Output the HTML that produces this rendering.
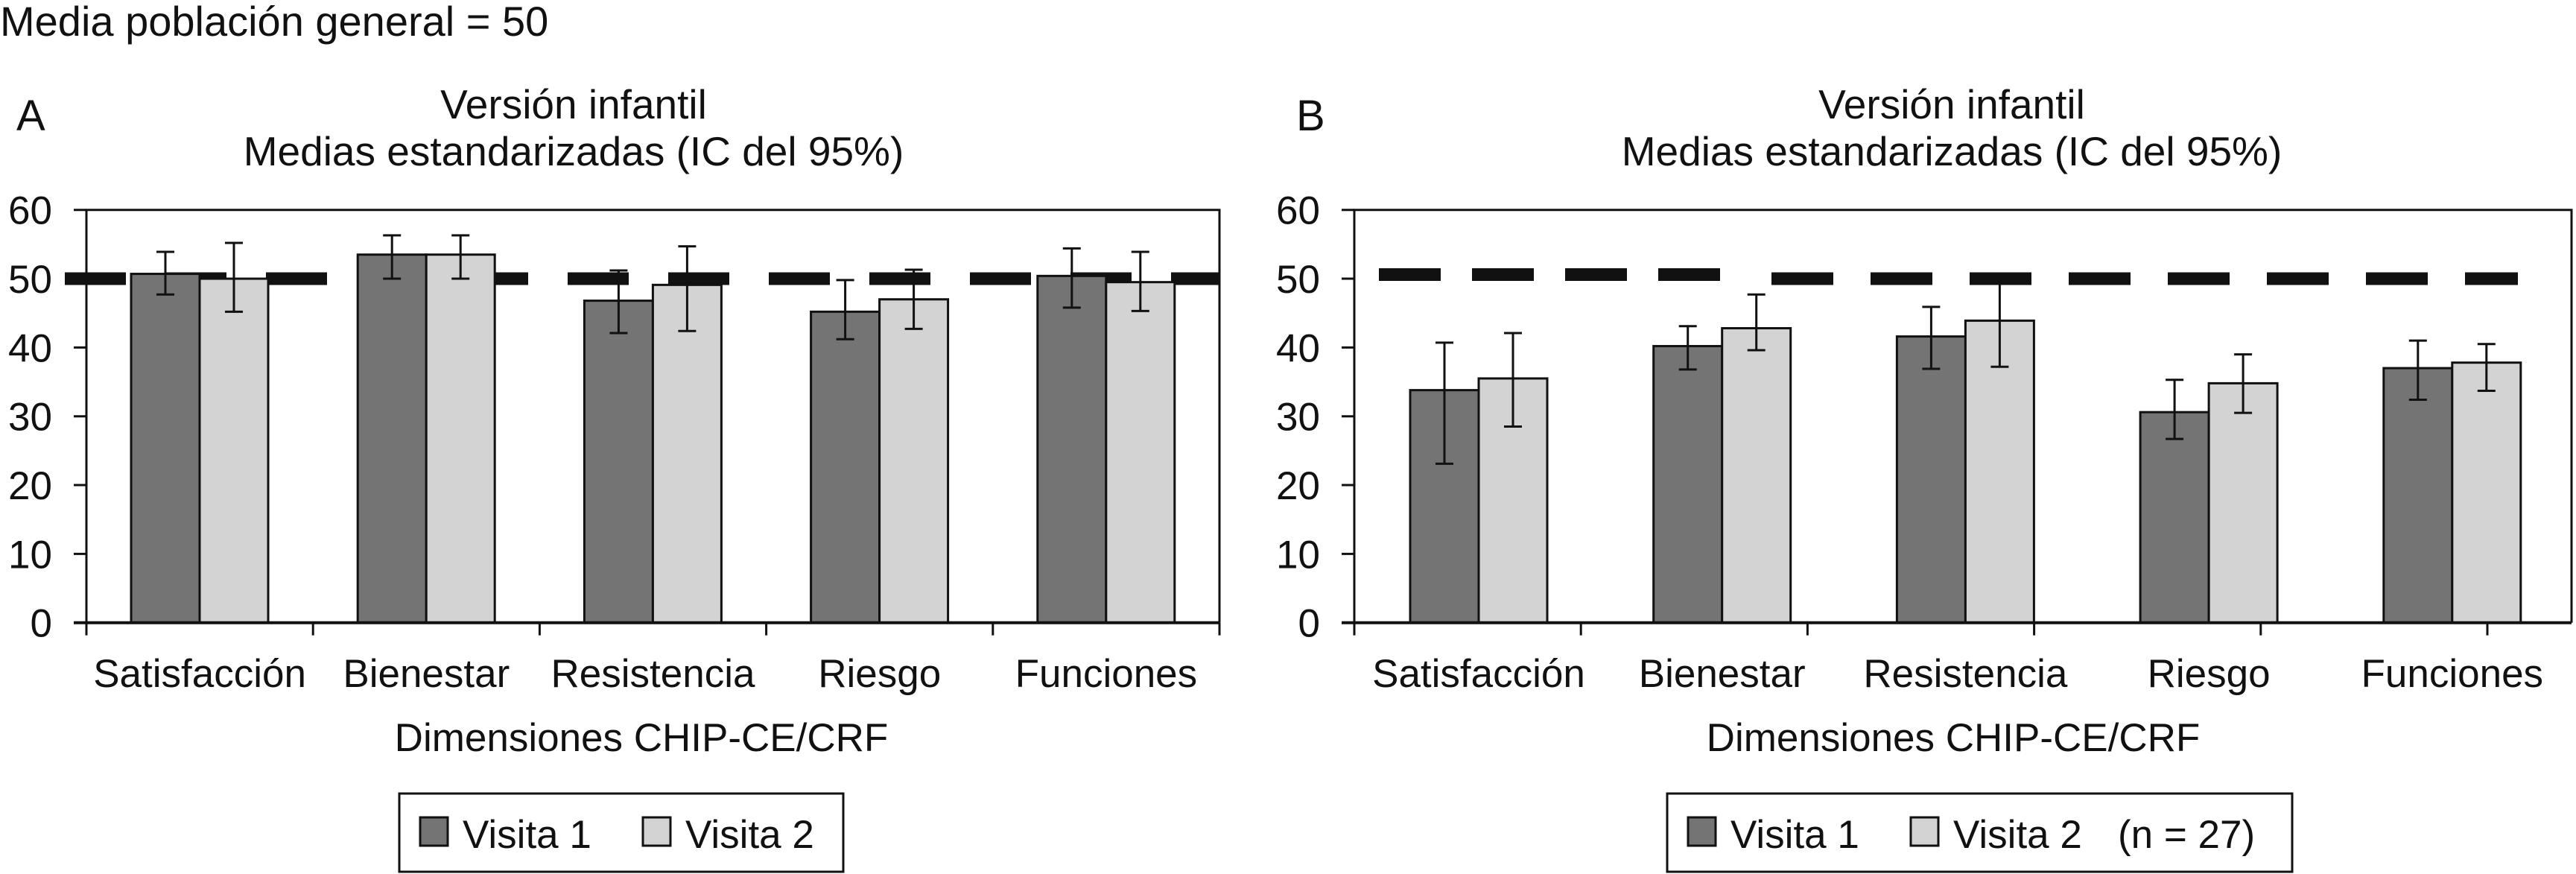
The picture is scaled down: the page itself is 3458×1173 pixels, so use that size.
<!DOCTYPE html>
<html><head><meta charset="utf-8"><style>
html,body{margin:0;padding:0;background:#fff}
svg{display:block}
text{font-family:"Liberation Sans",Arial,sans-serif;fill:#111}
</style></head><body>
<svg id="chart" xmlns="http://www.w3.org/2000/svg" width="3458" height="1173" viewBox="0 0 3458 1173">
<text x="0" y="48" font-size="56">Media población general = 50</text>
</svg>
<script>
const categories = ["Satisfacción","Bienestar","Resistencia","Riesgo","Funciones"];
const yTicks = [0,10,20,30,40,50,60];
const refValue = 50;
const aV1 = [50.7,53.5,46.8,45.2,50.4];
const aV1Lo = [47.7,50.0,42.1,41.2,45.8];
const aV1Hi = [53.9,56.3,51.2,49.8,54.4];
const aV2 = [50.0,53.5,49.1,47.0,49.5];
const aV2Lo = [45.2,50.0,42.4,42.7,45.3];
const aV2Hi = [55.2,56.3,54.7,51.3,53.9];
const bV1 = [33.8,40.2,41.6,30.6,37.0];
const bV1Lo = [23.1,36.8,36.9,26.7,32.4];
const bV1Hi = [40.7,43.1,45.9,35.3,41.0];
const bV2 = [35.5,42.8,43.9,34.8,37.8];
const bV2Lo = [28.5,39.6,37.2,30.5,33.7];
const bV2Hi = [42.1,47.7,50.3,39.0,40.5];
const bRefFirst = 50.6;

const NS="http://www.w3.org/2000/svg";
const svg=document.getElementById('chart');
function mk(tag,attrs,parent){const e=document.createElementNS(NS,tag);for(const k in attrs)e.setAttribute(k,attrs[k]);(parent||svg).appendChild(e);return e;}
const Y0=835.7, Y60=281.7;
function yS(v){return Y0-(v/60)*(Y0-Y60);}

function panel(o){
  const g=mk('g',{});
  
  
  const L=mk('text',{x:o.letterX,y:175,'font-size':58},g);L.textContent=o.letter;
  
  
  const t1=mk('text',{x:o.titleX,y:159,'font-size':55,'text-anchor':'middle'},g);t1.textContent='Versión infantil';
  
  
  const t2=mk('text',{x:o.titleX,y:222,'font-size':55,'text-anchor':'middle'},g);t2.textContent='Medias estandarizadas (IC del 95%)';
  
  
  o.refSegs.forEach(s=>{
    const r=mk('line',{x1:s.x1,x2:s.x2,y1:yS(s.v),y2:yS(s.v),stroke:'#111','stroke-width':17,'stroke-dasharray':s.dash},g);
    
    
  });
  const fr=mk('path',{d:`M${o.x0},${Y0} L${o.x0},${Y60} L${o.x1},${Y60} L${o.x1},${Y0}`,fill:'none',stroke:'#111','stroke-width':3},g);
  
  
  yTicks.forEach(v=>{
    const tk=mk('line',{x1:o.x0-17,x2:o.x0,y1:yS(v),y2:yS(v),stroke:'#111','stroke-width':3},g);
    
    
    const tl=mk('text',{x:o.x0-46,y:yS(v)+19,'font-size':53,'text-anchor':'end'},g);tl.textContent=v;
    
    
  });
  for(let i=0;i<=5;i++){
    const x=o.x0+i*304.2;
    const tk=mk('line',{x1:x,x2:x,y1:Y0,y2:Y0+17,stroke:'#111','stroke-width':3},g);
    
    
  }
  const bw=92;
  categories.forEach((c,i)=>{
    const left=o.groupLeft+i*o.period;
    [[o.v1,o.v1Lo,o.v1Hi,'#747474','visita-1'],[o.v2,o.v2Lo,o.v2Hi,'#d3d3d3','visita-2']].forEach((s,j)=>{
      const x=left+j*bw, v=s[0][i];
      const b=mk('rect',{x:x,y:yS(v),width:bw,height:Y0-yS(v),fill:s[3],stroke:'#111','stroke-width':3},g);
      
      
      const cx=x+bw/2;
      const e=mk('path',{d:`M${cx},${yS(s[1][i])} L${cx},${yS(s[2][i])} M${cx-12},${yS(s[1][i])} L${cx+12},${yS(s[1][i])} M${cx-12},${yS(s[2][i])} L${cx+12},${yS(s[2][i])}`,stroke:'#111','stroke-width':3,fill:'none'},g);
      
      
    });
    const cl=mk('text',{x:o.labelC(i),y:922,'font-size':53,'text-anchor':'middle'},g);cl.textContent=c;
    
    
  });
  const ax=mk('line',{x1:o.x0-17,x2:o.x1,y1:Y0,y2:Y0,stroke:'#111','stroke-width':4},g);
  
  
  const at=mk('text',{x:o.axisTitleX,y:1008,'font-size':53,'text-anchor':'middle'},g);at.textContent='Dimensiones CHIP-CE/CRF';
  
  
  const lg=mk('g',{},g);
  
  
  const lb=mk('rect',{x:o.leg.x,y:1065,width:o.leg.w,height:105,fill:'#fff',stroke:'#111','stroke-width':3},lg);
  
  
  [['#747474','Visita 1',o.leg.s1],['#d3d3d3','Visita 2',o.leg.s2]].forEach(it=>{
    const sq=mk('rect',{x:it[2],y:1097,width:37,height:38,fill:it[0],stroke:'#111','stroke-width':3},lg);
    
    
    const tx=mk('text',{x:it[2]+57,y:1138,'font-size':53},lg);tx.textContent=it[1];
    
    
  });
  if(o.leg.n){const n=mk('text',{x:o.leg.n,y:1138,'font-size':53},lg);n.textContent='(n = 27)';
    
    }
}

panel({id:'panel-a',letter:'A',letterX:22,titleX:770,x0:116,x1:1637,groupLeft:176,period:304.2,
  labelC:i=>116+(i+0.5)*304.2,axisTitleX:861,
  v1:aV1,v1Lo:aV1Lo,v1Hi:aV1Hi,v2:aV2,v2Lo:aV2Lo,v2Hi:aV2Hi,
  refSegs:[{x1:87,x2:1638,v:refValue,dash:'82 53'}],
  leg:{x:536,w:596,s1:564,s2:863}});
panel({id:'panel-b',letter:'B',letterX:1740,titleX:2620,x0:1818,x1:3452,groupLeft:1893,period:326.7,
  labelC:i=>1985+i*326.7,axisTitleX:2622,
  v1:bV1,v1Lo:bV1Lo,v1Hi:bV1Hi,v2:bV2,v2Lo:bV2Lo,v2Hi:bV2Hi,
  refSegs:[{x1:1851,x2:2325,v:bRefFirst,dash:'83 42'},{x1:2378,x2:3380,v:refValue,dash:'83 50'}],
  leg:{x:2238,w:839,s1:2266,s2:2565,n:2843}});
</script>
</body></html>
